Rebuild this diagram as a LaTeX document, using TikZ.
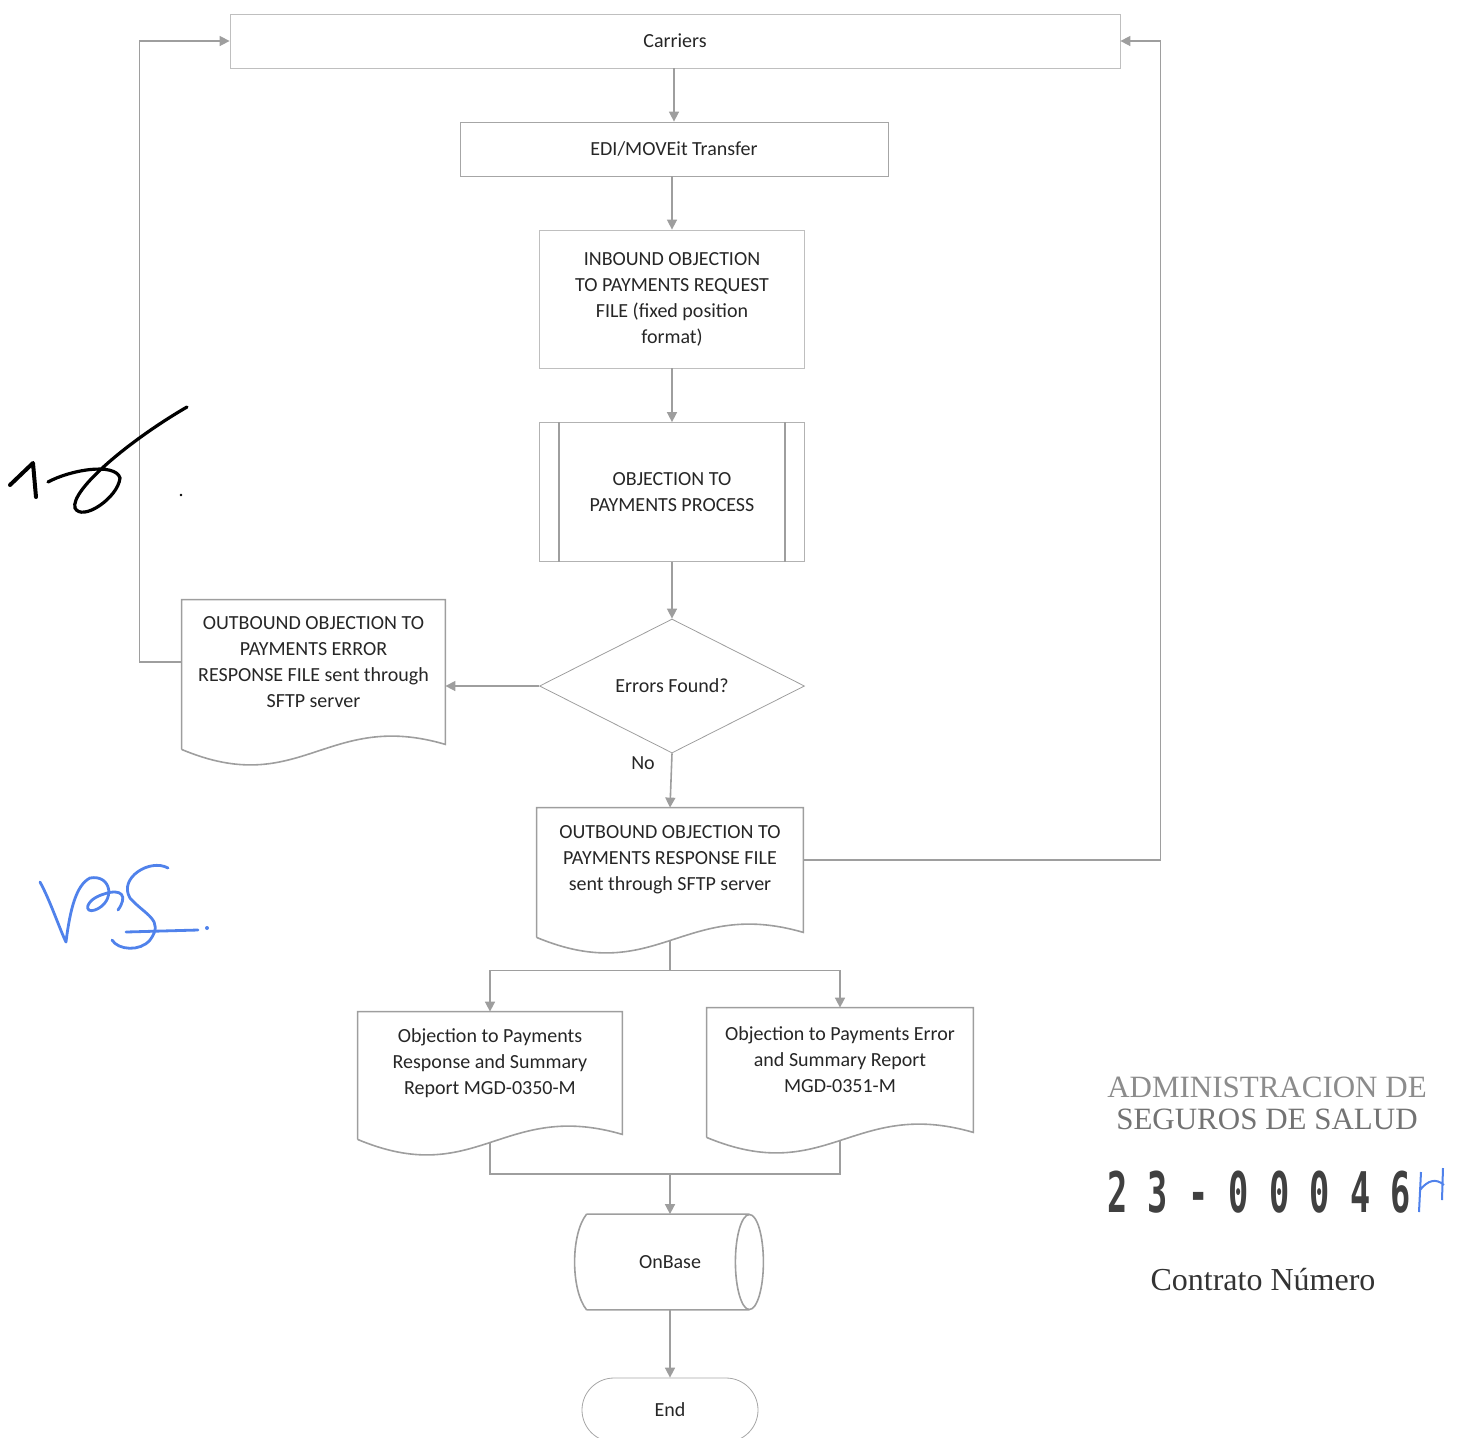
\documentclass[tikz,border=0pt]{standalone}
\usepackage{fontspec}
\usepackage{graphicx}
\setmainfont{Carlito}
\newfontfamily\stampfont{Liberation Serif}
\newfontfamily\numfont{DejaVu Sans Mono}
\usetikzlibrary{shapes.geometric,shapes.misc,arrows.meta,calc}
\definecolor{sigblue}{RGB}{80,130,235}
\newcommand{\docpath}[1]{%
  \draw[ln] ($(#1.south west)+(0,25)$) -- (#1.north west) -- (#1.north east) -- ($(#1.south east)+(0,20)$)
    .. controls ($(#1.south east)!0.45!(#1.south west)+(0,-15)$) and ($(#1.south east)!0.55!(#1.south west)+(0,75)$) .. ($(#1.south west)+(0,25)$);}
\begin{document}
\begin{tikzpicture}[x=0.5pt,y=-0.5pt,
  ln/.style={draw=black!38,line width=0.8pt},
  txt/.style={font=\fontsize{10}{13}\selectfont, text=black!85, align=center, inner sep=0pt},
  arr/.style={ln,-{Triangle[length=5pt,width=5pt]}},
  doc/.style={txt}]
\useasboundingbox (0,0) rectangle (1463,1437);

% nodes
\node[txt, draw=black!25, minimum width=445pt, minimum height=27pt] (car) at (675,41) {Carriers};
\node[txt, draw=black!35, minimum width=214pt, minimum height=27pt] (edi) at (674,149) {EDI/MOVEit Transfer};
\node[txt, draw=black!25, minimum width=132.5pt, minimum height=69pt] (inb) at (672,299)
  {INBOUND OBJECTION\\TO PAYMENTS REQUEST\\FILE (fixed position\\format)};
\node[txt, draw=black!30, minimum width=132.5pt, minimum height=69.5pt] (proc) at (672,492)
  {OBJECTION TO\\PAYMENTS PROCESS};
\draw[ln] ($(proc.north west)+(20,0)$) -- ($(proc.south west)+(20,0)$);
\draw[ln] ($(proc.north east)+(-20,0)$) -- ($(proc.south east)+(-20,0)$);
\node[txt, diamond, draw=black!38, shape aspect=2, minimum width=132.5pt, minimum height=67pt] (dia) at (672,686) {Errors Found?};
\node[txt] (no) at (643,763) {No};

\node[doc, minimum width=131.5pt, minimum height=62pt] (err) at (313.5,662)
  {OUTBOUND OBJECTION TO\\PAYMENTS ERROR\\RESPONSE FILE sent through\\SFTP server};
\docpath{err}
\node[doc, minimum width=133pt, minimum height=52pt] (out) at (670,860)
  {OUTBOUND OBJECTION TO\\PAYMENTS RESPONSE FILE\\sent through SFTP server};
\docpath{out}
\node[doc, minimum width=132pt, minimum height=51pt] (ldoc) at (490,1063)
  {Objection to Payments\\Response and Summary\\Report MGD-0350-M};
\docpath{ldoc}
\node[doc, minimum width=133pt, minimum height=52pt] (rdoc) at (840,1060)
  {Objection to Payments Error\\and Summary Report\\MGD-0351-M};
\docpath{rdoc}
% OnBase: horizontal cylinder drawn round a plain node
\node[txt, minimum width=83pt, minimum height=47.5pt] (onb) at (670,1262) {OnBase};
\draw[ln] (onb.north west) -- ($(onb.north east)+(-4,0)$)
  (onb.south west) -- ($(onb.south east)+(-4,0)$)
  (onb.north west) .. controls ($(onb.north west)+(-16,20)$) and ($(onb.south west)+(-16,-20)$) .. (onb.south west)
  ($(onb.east)+(-4,0)$) ellipse [x radius=14, y radius=47.5];
\node[txt, rounded rectangle, draw=black!35, minimum width=88pt, minimum height=32pt] (end) at (670,1410) {End};

% connectors
\draw[arr] (car.south -| edi.north) -- (edi.north);
\draw[arr] (edi.south -| inb.north) -- (inb.north);
\draw[arr] (inb) -- (proc);
\draw[arr] (proc) -- (dia);
\draw[arr] (dia.south) -- (out.north);
\draw[arr] (dia.west) -- (err.east |- dia.west);
\draw[arr] (err.west) -- ++(-42,0) |- (car.west);
\draw[arr] (out.east) -| ($(car.east)+(40,0)$) -- (car.east);
\coordinate (outb) at ($(out.south)+(0,28)$);
\coordinate (split) at ($(out.south)+(0,58)$);
\draw[ln] (outb) -- (split);
\draw[arr] (split) -| (ldoc.north);
\draw[arr] (split) -| (rdoc.north);
\coordinate (lb) at ($(ldoc.south)+(0,28)$);
\coordinate (rb) at ($(rdoc.south)+(0,28)$);
\path (onb.north) ++(0,-40) coordinate (merge);
\draw[ln] (lb) |- (merge);
\draw[ln] (rb) |- (merge);
\draw[arr] (merge) -- (onb.north);
\draw[arr] (onb) -- (end);

% stamp
\node[font=\stampfont\fontsize{15.5}{17}\selectfont, text=black!45] (st1) at (1267,1087) {ADMINISTRACION DE};
\node[font=\stampfont\fontsize{15.5}{17}\selectfont, text=black!55] (st2) at (1267,1119) {SEGUROS DE SALUD};
\node[font=\numfont\bfseries\fontsize{28}{30}\selectfont, text=black!75] (num) at (1259,1192) {\scalebox{0.6}[1]{2 3 - 0 0 0 4 6}};
\node[font=\stampfont\fontsize{16}{18}\selectfont, text=black!80] (con) at (1263,1280) {Contrato Número};
\draw[sigblue, line width=1pt] (1421,1172) -- (1419,1212) (1443,1168) -- (1442,1200) (1420,1190) .. controls (1428,1180) and (1436,1178) .. (1444,1185);

% signatures
\draw[black, line width=2pt, line cap=round, line join=round] (10,485) -- (33,463) -- (36,497);
\draw[black, line width=1.6pt, line cap=round] (187,407) .. controls (130,440) and (70,490) .. (75,508)
  .. controls (82,522) and (118,498) .. (120,478) .. controls (115,462) and (70,470) .. (48,482);
\fill[black] (181,495) circle (1.3);
\draw[sigblue, line width=1.4pt, line cap=round, line join=round]
  (40,882) .. controls (50,900) and (60,930) .. (66,942) .. controls (70,910) and (76,885) .. (90,878)
  .. controls (112,874) and (116,902) .. (95,910) .. controls (84,914) and (84,900) .. (104,894)
  .. controls (122,888) and (128,896) .. (118,910);
\draw[sigblue, line width=1.4pt, line cap=round, line join=round]
  (168,868) .. controls (150,858) and (118,878) .. (130,898) .. controls (145,915) and (165,920) .. (150,940)
  .. controls (140,952) and (118,950) .. (112,940) (126,932) -- (198,930);
\fill[sigblue] (207,928) circle (2);
\end{tikzpicture}
\end{document}
